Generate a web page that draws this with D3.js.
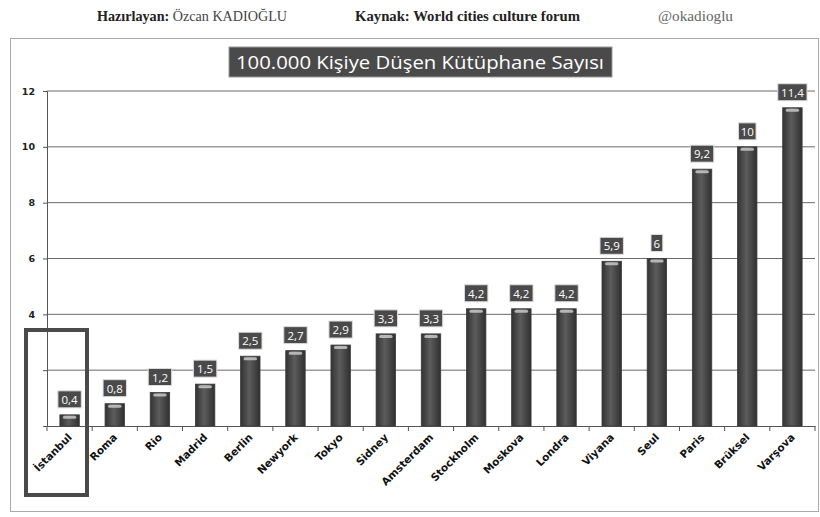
<!DOCTYPE html>
<html><head><meta charset="utf-8">
<script src="https://cdn.jsdelivr.net/npm/d3@7"></script>
<style>body{margin:0;background:#fff}svg{display:block}</style>
</head><body>
<script>
const categories = ["İstanbul","Roma","Rio","Madrid","Berlin","Newyork","Tokyo","Sidney","Amsterdam","Stockholm","Moskova","Londra","Viyana","Seul","Paris","Brüksel","Varşova"];
const values = [0.4,0.8,1.2,1.5,2.5,2.7,2.9,3.3,3.3,4.2,4.2,4.2,5.9,6,9.2,10,11.4];
const valueLabels = ["0,4","0,8","1,2","1,5","2,5","2,7","2,9","3,3","3,3","4,2","4,2","4,2","5,9","6","9,2","10","11,4"];
const yTicks = [0,2,4,6,8,10,12];
const yTickLabels = ["","","4","6","8","10","12"];
const title = "100.000 Kişiye Düşen Kütüphane Sayısı";

const W = 820, H = 517;
const svg = d3.select("body").append("svg").attr("width", W).attr("height", H);
const defs = svg.append("defs");
const g1 = defs.append("linearGradient").attr("id","barg").attr("x1","0").attr("x2","1").attr("y1","0").attr("y2","0");
g1.append("stop").attr("offset","0%").attr("stop-color","#333");
g1.append("stop").attr("offset","45%").attr("stop-color","#5c5c5c");
g1.append("stop").attr("offset","100%").attr("stop-color","#303030");

// header
const hdr = svg.append("g").attr("font-family","Liberation Serif, serif").attr("font-size",14).attr("fill","#222");
const t1 = hdr.append("text").attr("x",97).attr("y",21).attr("textLength",190).attr("lengthAdjust","spacingAndGlyphs");
t1.append("tspan").attr("font-weight","bold").text("Hazırlayan: ");
t1.append("tspan").attr("fill","#444").text("Özcan KADIOĞLU");
hdr.append("text").attr("x",355).attr("y",21).attr("font-weight","bold").attr("textLength",225).attr("lengthAdjust","spacingAndGlyphs").text("Kaynak: World cities culture forum");
hdr.append("text").attr("x",658).attr("y",21).attr("fill","#666").attr("textLength",75).attr("lengthAdjust","spacingAndGlyphs").text("@okadioglu");

// chart frame
svg.append("rect").attr("x",10.5).attr("y",38.5).attr("width",808).attr("height",473).attr("fill","none").attr("stroke","#aaa").attr("stroke-width",1);

// title box
svg.append("rect").attr("x",229).attr("y",47).attr("width",383).attr("height",30).attr("fill","#4a4a4a").attr("stroke","#999");
svg.append("text").attr("x",420).attr("y",69).attr("text-anchor","middle").attr("fill","#fff")
  .attr("font-family","Open Sans, sans-serif").attr("font-size",19).attr("textLength",368).attr("lengthAdjust","spacingAndGlyphs").text(title);

const x = d3.scaleBand().domain(categories).range([47, 815]).paddingInner(0.57).paddingOuter(0.285);
const y = d3.scaleLinear().domain([0,12]).range([426, 91]);

// grid
svg.append("g").selectAll("line").data(yTicks.filter(d=>d>0)).join("line")
  .attr("x1",47).attr("x2",815).attr("y1",d=>y(d)).attr("y2",d=>y(d)).attr("stroke","#6a6a6a").attr("stroke-width",1);

// y axis
const ya = svg.append("g").attr("transform","translate(47,0)")
  .call(d3.axisLeft(y).tickValues(yTicks).tickFormat((d,i)=>yTickLabels[i]).tickSize(4).tickPadding(8));
ya.select(".domain").attr("stroke","#555");
ya.selectAll(".tick line").attr("stroke","#555");
ya.selectAll("text").attr("font-family","DejaVu Sans, sans-serif").attr("font-weight","bold").attr("font-size",9.5).attr("fill","#222");

// x axis
const xa = svg.append("g").attr("transform","translate(0,426)")
  .call(d3.axisBottom(x).tickSize(0).tickFormat(""));
xa.select(".domain").attr("stroke","#555");
svg.append("g").selectAll("line").data(d3.range(categories.length+1)).join("line")
  .attr("x1",i=>47+i*(768/categories.length)).attr("x2",i=>47+i*(768/categories.length))
  .attr("y1",426).attr("y2",431).attr("stroke","#555");

// x labels
svg.append("g").selectAll("text").data(categories).join("text")
  .attr("transform",d=>`translate(${x(d)+x.bandwidth()/2+3},438) rotate(-45)`)
  .attr("text-anchor","end").attr("font-family","DejaVu Sans, sans-serif").attr("font-weight","bold")
  .attr("font-size",10.5).attr("fill","#111").text(d=>d);

// bars
const bars = svg.append("g").selectAll("g").data(categories).join("g");
bars.append("rect").attr("x",d=>x(d)).attr("width",x.bandwidth())
  .attr("y",(d,i)=>y(values[i])).attr("height",(d,i)=>426-y(values[i]))
  .attr("fill","url(#barg)").attr("stroke","#3a3a3a").attr("stroke-width",0.8);
bars.append("rect").attr("x",d=>x(d)+3).attr("width",x.bandwidth()-6)
  .attr("y",(d,i)=>y(values[i])+1).attr("height",3).attr("rx",1.5)
  .attr("fill","#d0d0d0").attr("opacity",0.8);

// value labels
const lbl = svg.append("g").selectAll("g").data(categories).join("g")
  .attr("transform",(d,i)=>`translate(${x(d)+x.bandwidth()/2},${y(values[i])-7})`);
lbl.append("rect").attr("x",(d,i)=>-(valueLabels[i].length*5.8+6)/2).attr("y",-17)
  .attr("width",(d,i)=>valueLabels[i].length*5.8+6).attr("height",17)
  .attr("fill","#4a4a4a").attr("stroke","#ddd").attr("stroke-width",1);
lbl.append("text").attr("y",-4).attr("text-anchor","middle").attr("fill","#fff")
  .attr("font-family","Open Sans, sans-serif").attr("font-size",11.5).text((d,i)=>valueLabels[i]);

// highlight box around first category
svg.append("rect").attr("x",26).attr("y",330).attr("width",61).attr("height",165)
  .attr("fill","none").attr("stroke","#4a4a4a").attr("stroke-width",4);
</script>
</body></html>
